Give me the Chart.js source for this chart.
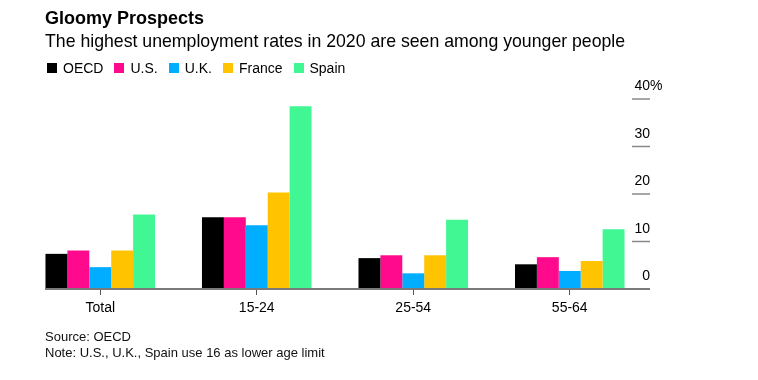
<!DOCTYPE html>
<html>
<head>
<meta charset="utf-8">
<script src="https://cdn.jsdelivr.net/npm/chart.js@4/dist/chart.umd.min.js"></script>
<style>
  html, body { margin: 0; padding: 0; background: #fff; }
  #wrap { position: relative; width: 758px; height: 380px; font-family: "Liberation Sans", Arial, sans-serif; color: #000; }
  #wrap canvas { position: absolute; left: 0; top: 0; }
  .txt { position: absolute; left: 45px; white-space: nowrap; }
  .title { top: 8px; font-size: 18px; font-weight: bold; }
  .sub { top: 31px; font-size: 17.7px; }
  .legend { top: 60px; left: 47px; font-size: 14px; display: flex; }
  .legend span { display: inline-flex; align-items: center; margin-right: 11px; }
  .legend i { display: inline-block; width: 10px; height: 10px; margin-right: 6px; }
  .foot { top: 329px; font-size: 13px; line-height: 15.7px; color: #111; }
</style>
</head>
<body>
<div id="wrap">
  <canvas id="chart" width="758" height="380"></canvas>
  <div class="txt title">Gloomy Prospects</div>
  <div class="txt sub">The highest unemployment rates in 2020 are seen among younger people</div>
  <div class="txt legend" id="legend"></div>
  <div class="txt foot">Source: OECD<br>Note: U.S., U.K., Spain use 16 as lower age limit</div>
</div>
<script>
  /* categories and series (unemployment rate, %) */
  var AGE_GROUPS = ['Total', '15-24', '25-54', '55-64'];
  var OECD   = [7.4, 15.1, 6.5, 5.2];
  var US     = [8.1, 15.1, 7.1, 6.7];
  var UK     = [4.6, 13.4, 3.3, 3.8];
  var FRANCE = [8.1, 20.3, 7.1, 5.9];
  var SPAIN  = [15.7, 38.5, 14.6, 12.6];
  var Y_TICKS = [0, 10, 20, 30, 40];

  var FONT = '"Liberation Sans", Arial, sans-serif';

  var series = [
    { label: 'OECD',   data: OECD,   color: '#000000' },
    { label: 'U.S.',   data: US,     color: '#ff0a8c' },
    { label: 'U.K.',   data: UK,     color: '#00adff' },
    { label: 'France', data: FRANCE, color: '#ffc300' },
    { label: 'Spain',  data: SPAIN,  color: '#40f793' }
  ];

  // html legend, squares + names
  document.getElementById('legend').innerHTML = series.map(function (s) {
    return '<span><i style="background:' + s.color + '"></i>' + s.label + '</span>';
  }).join('');

  /* right-hand value axis: short ticks with the number sitting on top,
   * plus a zero baseline that starts at the first bar */
  var axisDecor = {
    id: 'axisDecor',
    afterDraw: function (chart) {
      var ctx = chart.ctx;
      var y = chart.scales.y;
      var zero = y.getPixelForValue(0);
      ctx.save();
      ctx.strokeStyle = '#7a7a7a';
      ctx.lineWidth = 2;
      ctx.beginPath();
      ctx.moveTo(45, zero);
      ctx.lineTo(650, zero);
      ctx.stroke();

      ctx.font = '14px ' + FONT;
      ctx.fillStyle = '#000';
      ctx.textBaseline = 'alphabetic';
      Y_TICKS.forEach(function (v) {
        var py = y.getPixelForValue(v);
        if (v !== 0) {
          ctx.strokeStyle = '#888';
          ctx.lineWidth = 1.5;
          ctx.beginPath();
          ctx.moveTo(632, py);
          ctx.lineTo(650, py);
          ctx.stroke();
        }
        ctx.textAlign = 'right';
        ctx.fillText(String(v), 650, py - 9);
        if (v === Y_TICKS[Y_TICKS.length - 1]) {
          ctx.textAlign = 'left';
          ctx.fillText('%', 650, py - 9);
        }
      });
      ctx.restore();
    }
  };

  new Chart(document.getElementById('chart'), {
    type: 'bar',
    data: {
      labels: AGE_GROUPS,
      datasets: series.map(function (s) {
        return {
          label: s.label,
          data: s.data,
          backgroundColor: s.color,
          borderWidth: 0,
          categoryPercentage: 0.7,
          barPercentage: 1.0
        };
      })
    },
    plugins: [axisDecor],
    options: {
      responsive: false,
      animation: false,
      layout: { padding: { top: 99, left: 22, right: 110, bottom: 51 } },
      plugins: {
        legend: { display: false },
        tooltip: { enabled: false }
      },
      scales: {
        x: {
          grid: { offset: false, drawOnChartArea: false, drawTicks: true, tickLength: 6, color: '#555', lineWidth: 1 },
          border: { display: false },
          ticks: { color: '#000', padding: 5, font: { family: FONT, size: 14 } },
          afterFit: function (s) { s.height = 40; }
        },
        y: {
          display: false,
          min: 0,
          max: 40
        }
      }
    }
  });
</script>
</body>
</html>
